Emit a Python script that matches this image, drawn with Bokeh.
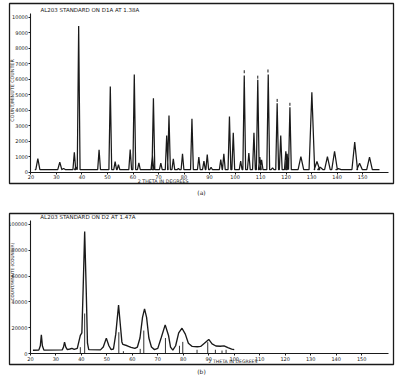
import math
from bokeh.plotting import figure
from bokeh.layouts import column
from bokeh.models import (Range1d, LinearAxis, FixedTicker, BasicTickFormatter,
                          Label, Title)
from bokeh.embed import file_html
from bokeh.resources import INLINE

# ---------------- data ----------------
# (a) D1A, lambda 1.38 A : peak positions (2theta, deg) and peak counts
top_peak_pos = [22.7, 31.3, 32.8, 37.0, 37.6, 38.7, 46.7, 51.1, 53.0, 54.3,
                58.9, 60.5, 62.3, 67.6, 68.0, 70.9, 73.2, 74.1, 75.8, 77.8,
                79.4, 83.1, 85.8, 87.8, 89.1, 90.6, 94.4, 95.6, 97.8, 99.3,
                102.2, 103.6, 105.4, 107.4, 108.9, 109.7, 110.4, 113.0, 114.7, 116.5,
                117.9, 119.9, 120.4, 121.5, 125.8, 130.1, 132.1, 133.4, 136.2, 139.0,
                140.5, 146.9, 148.8, 152.7]
top_peak_cnt = [900, 660, 260, 1310, 350, 9450, 1460, 5550, 700, 500,
                1480, 6320, 620, 1100, 4790, 600, 2390, 3680, 880, 260,
                1200, 3460, 990, 730, 1150, 340, 840, 1200, 3610, 2560,
                730, 6260, 1260, 2560, 5980, 990, 820, 6320, 300, 4470,
                2390, 1370, 1200, 4210, 1030, 5180, 710, 340, 1030, 1370,
                250, 1960, 600, 990]
top_background = 180
top_scan = [21.5, 156.6]
# small "calculated" marks above some peaks
top_mark_pos = [103.6, 108.9, 112.9, 116.5, 121.5]
top_mark_cnt = [6500, 6150, 6550, 4650, 4400]

# (b) D2, lambda 1.47 A : traced profile
bot_x = [21.0, 23.3, 23.9, 24.3, 24.7, 25.3, 32.5, 33.0, 33.4, 33.9, 34.5, 35.5,
         36.3, 37.2, 38.4, 39.0, 39.6, 40.2, 40.7, 41.3, 41.9, 42.4, 42.9, 47.5,
         48.6, 49.8, 50.8, 51.7, 52.6, 53.5, 54.6, 55.4, 55.9, 56.3, 58.0, 59.5,
         61.0, 62.0, 63.0, 64.0, 64.8, 65.6, 66.5, 67.5, 68.7, 70.0, 71.3, 72.9,
         74.2, 75.0, 75.9, 77.0, 78.2, 79.5, 80.8, 82.0, 83.5, 85.5, 86.8, 88.3,
         90.0, 91.3, 92.8, 94.5, 96.0, 97.5, 99.0, 100.0]
bot_y = [2500, 2600, 6000, 14500, 6000, 2600, 2800, 5000, 8800, 5000, 3000, 3500,
         4000, 3200, 4000, 9000, 14000, 16000, 50000, 94500, 50000, 8000, 3000, 2800,
         5000, 11900, 6000, 3000, 3500, 15000, 37500, 20000, 9000, 7000, 6000, 4800,
         4000, 5000, 12000, 28000, 34600, 28000, 12000, 5000, 3000, 4000, 12000, 22200,
         14000, 5000, 2600, 6000, 16000, 19600, 15000, 8000, 5500, 5200, 5500, 8000,
         10900, 7500, 5800, 5600, 5900, 4500, 3400, 3000]
# calculated reflection sticks
stick_pos = [39.6, 41.3, 54.7, 56.5, 63.1, 64.5, 73.0, 78.5, 79.8, 85.4, 89.6, 92.6, 95.2, 96.8]
stick_cnt = [4900, 31000, 16500, 1800, 3600, 17800, 12000, 6000, 9000, 2900, 8800, 2900, 2300, 2900]

x_ticks = [20, 30, 40, 50, 60, 70, 80, 90, 100, 110, 120, 130, 140, 150]
top_y_ticks = [0, 1000, 2000, 3000, 4000, 5000, 6000, 7000, 8000, 9000, 10000]
bot_y_ticks = [0, 20000, 40000, 60000, 80000, 100000]

FONT = "DejaVu Sans"
INK = "#1a1a1a"


def peak_halfwidth(pos):
    if pos < 35:
        return 0.8
    if pos > 125:
        return 1.1
    return 0.55


def make_axes(p, xbounds, ybounds, yticks):
    xa = LinearAxis(fixed_location=0, ticker=FixedTicker(ticks=x_ticks, minor_ticks=[]),
                    bounds=xbounds)
    ya = LinearAxis(fixed_location=20, ticker=FixedTicker(ticks=yticks, minor_ticks=[]),
                    bounds=ybounds, formatter=BasicTickFormatter(use_scientific=False))
    for ax in (xa, ya):
        ax.axis_line_color = INK
        ax.axis_line_width = 1.1
        ax.major_tick_line_color = INK
        ax.major_tick_in = 0
        ax.major_tick_out = 2
        ax.minor_tick_line_color = None
        ax.major_label_text_font = FONT
        ax.major_label_text_font_size = "5px"
        ax.major_label_text_color = INK
        ax.major_label_standoff = 1
    p.add_layout(xa, "below")
    p.add_layout(ya, "left")


def text_label(p, x, y, txt, size, angle=0.0, align="left"):
    p.add_layout(Label(x=x, y=y, text=txt, text_font=FONT, text_font_size=size,
                       text_color=INK, angle=angle, text_align=align,
                       text_baseline="middle"))


def base_fig(h, xr, yr, top, bottom, left, right):
    p = figure(width=400, height=h, x_range=Range1d(*xr), y_range=Range1d(*yr),
               x_axis_type=None, y_axis_type=None, output_backend="svg",
               toolbar_location=None, min_border_left=left, min_border_right=right,
               min_border_top=top, min_border_bottom=bottom)
    p.grid.visible = False
    p.outline_line_color = INK
    p.outline_line_width = 1.3
    p.background_fill_color = "white"
    p.border_fill_color = "white"
    return p


# ---------------- (a) top panel ----------------
p1 = base_fig(200, (11.59, 162.1), (-710, 10903), 3, 17, 9, 6)
make_axes(p1, (20, 160), (0, 10250), top_y_ticks)

order = sorted(range(len(top_peak_pos)), key=lambda i: top_peak_pos[i])
tx = [top_scan[0]]
ty = [top_background]
for i in order:
    c = top_peak_pos[i]
    w = peak_halfwidth(c)
    tx += [c - w, c, c + w]
    ty += [top_background, top_peak_cnt[i], top_background]
tx.append(top_scan[1])
ty.append(top_background)
p1.line(tx, ty, line_color=INK, line_width=1.25)
p1.scatter(top_mark_pos, top_mark_cnt, marker="dash", angle=math.pi / 2, size=3,
           line_color=INK, line_width=1)

text_label(p1, 23.7, 10500, "AL203 STANDARD ON D1A AT 1.38A", "5.5px")
text_label(p1, 12.6, 5290, "COUNT/MINUTE COUNTER", "4.8px", angle=math.pi / 2, align="center")
text_label(p1, 71.8, -560, "2 THETA IN DEGREES", "4.8px", align="center")
p1.add_layout(Title(text="(a)", align="center", text_font=FONT, text_font_size="6px",
                    text_font_style="normal", text_color=INK, standoff=7), "below")

# ---------------- (b) bottom panel ----------------
p2 = base_fig(177, (11.8, 162.5), (-8527, 108527), 13, 13, 8, 7)
make_axes(p2, (20, 160.6), (0, 103000), bot_y_ticks)

p2.line(bot_x, bot_y, line_color=INK, line_width=1.35)
p2.segment(x0=stick_pos, y0=[0] * len(stick_pos), x1=stick_pos, y1=stick_cnt,
           line_color=INK, line_width=0.9)

text_label(p2, 23.9, 106200, "AL203 STANDARD ON D2  AT 1.47A", "5.5px")
text_label(p2, 12.95, 63570, "COUNT/MINUTE (COUNTER)", "4.2px", angle=math.pi / 2, align="center")
text_label(p2, 99.5, -6400, "2 THETA IN DEGREES", "4.6px", align="center")
p2.add_layout(Title(text="(b)", align="center", text_font=FONT, text_font_size="6px",
                    text_font_style="normal", text_color=INK, standoff=3), "below")

layout = column(p1, p2, spacing=0)
open("out.html", "w").write(file_html(layout, INLINE))
